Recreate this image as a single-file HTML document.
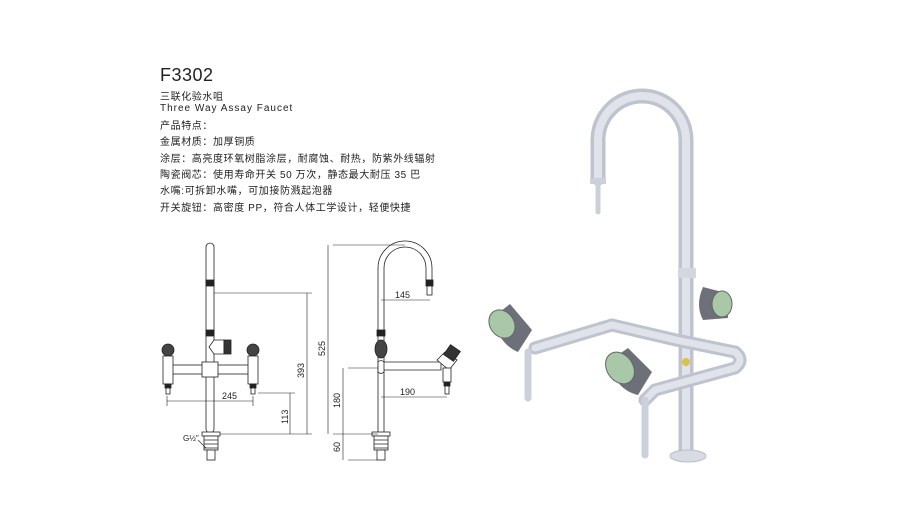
<!DOCTYPE html>
<html><head><meta charset="utf-8"><style>
html,body{margin:0;padding:0;background:#fff;}
#c{position:relative;width:900px;height:510px;overflow:hidden;font-family:"Liberation Sans","Noto Sans CJK SC",sans-serif;color:#222;}
.t{position:absolute;left:160px;font-size:10px;white-space:nowrap;letter-spacing:0.6px;}
</style></head><body><div id="c">
<div class="t" style="top:65px;font-size:18px;letter-spacing:0.5px">F3302</div>
<div class="t" style="top:88px">三联化验水咀</div>
<div class="t" style="top:103px;letter-spacing:1px">Three Way Assay Faucet</div>
<div class="t" style="top:117px">产品特点：</div>
<div class="t" style="top:133px">金属材质：加厚铜质</div>
<div class="t" style="top:150px">涂层：高亮度环氧树脂涂层，耐腐蚀、耐热，防紫外线辐射</div>
<div class="t" style="top:166px">陶瓷阀芯：使用寿命开关 50 万次，静态最大耐压 35 巴</div>
<div class="t" style="top:182px">水嘴:可拆卸水嘴，可加接防溅起泡器</div>
<div class="t" style="top:199px">开关旋钮：高密度 PP，符合人体工学设计，轻便快捷</div>
<svg width="900" height="510" style="position:absolute;left:0;top:0" font-family="Liberation Sans, sans-serif" font-size="9">
<g stroke="#222" stroke-width="0.8" fill="#fff">
<rect x="206" y="243" width="8" height="190" rx="4"/>
<rect x="206" y="280" width="8" height="6" fill="#222"/>
<rect x="206" y="330" width="8" height="6" fill="#222"/>
<path d="M214 340 h10 v14 h-10 l-5 -7z"/>
<rect x="224" y="340" width="7" height="14" fill="#333"/>
<rect x="168" y="365" width="84" height="9"/>
<rect x="202" y="362" width="16" height="15"/>
<circle cx="168" cy="350" r="6" fill="#444"/>
<rect x="163" y="356" width="10" height="28"/>
<rect x="165" y="384" width="6" height="4" fill="#222"/>
<rect x="166" y="388" width="4" height="6"/>
<circle cx="253" cy="350" r="6" fill="#444"/>
<rect x="248" y="356" width="10" height="28"/>
<rect x="250" y="384" width="6" height="4" fill="#222"/>
<rect x="251" y="388" width="4" height="6"/>
<rect x="202" y="432" width="18" height="4"/>
<rect x="204" y="436" width="14" height="14"/>
<path d="M204 440h14M204 444h14M204 448h14"/>
<rect x="207" y="450" width="8" height="10"/>
<path d="M378 434 V268 A27 27 0 0 1 432 268 V280 h-6 V268 A21 21 0 0 0 384 268 V434z"/>
<rect x="426" y="280" width="7" height="6" fill="#222"/>
<rect x="427" y="286" width="5" height="9"/>
<rect x="377" y="330" width="8" height="6" fill="#222"/>
<ellipse cx="381" cy="349" rx="6" ry="9" fill="#444"/>
<path d="M381 362 h60 v8 h-60 z"/>
<path d="M378 362 a4 4 0 0 1 6 0 v10 a4 4 0 0 1 -6 0z"/>
<path d="M437 360 l8 -8 l12 8 l-8 10z"/>
<rect x="446" y="347" width="12" height="12" fill="#333" transform="rotate(35 452 353)"/>
<rect x="443" y="368" width="8" height="14"/>
<rect x="444" y="382" width="6" height="4" fill="#222"/>
<rect x="445" y="386" width="4" height="8"/>
<rect x="372" y="432" width="18" height="4"/>
<rect x="374" y="436" width="14" height="14"/>
<path d="M374 440h14M374 444h14M374 448h14"/>
<rect x="377" y="450" width="8" height="10"/>
</g>
<g stroke="#222" stroke-width="0.6" fill="none">
<path d="M214 293H312M307 293V434M220 434H312M258 393H295M290 393V434"/>
<path d="M167 401H253M167 396V406M253 396V406"/>
<path d="M333 245H405M328 245V434M333 434H378M348 368H378M343 368V460M343 434V460M348 460H378"/>
<path d="M381 300H430M381 397H447"/>
<path d="M198 440l8 8"/>
</g>
<g fill="#222">
<text x="222" y="399">245</text>
<text x="395" y="298">145</text>
<text x="400" y="395">190</text>
<text transform="translate(304 378) rotate(-90)">393</text>
<text transform="translate(288 424) rotate(-90)">113</text>
<text transform="translate(325 356) rotate(-90)">525</text>
<text transform="translate(340 408) rotate(-90)">180</text>
<text transform="translate(340 452) rotate(-90)">60</text>
<text x="183" y="441" font-size="8">G½"</text>
</g>
<!-- 3D photo -->
<g fill="none" stroke-linecap="round">
<path d="M686 450 V140 A44 44 0 0 0 598 140 V178" stroke="#bfc3cf" stroke-width="15"/>
<path d="M686 450 V140 A44 44 0 0 0 598 140 V178" stroke="#e0e3ea" stroke-width="8"/>
<path d="M535 348 L612 325 L676 340 L735 352 Q745 360 735 368 L655 390 L645 400" stroke="#bfc3cf" stroke-width="13"/>
<path d="M535 348 L612 325 L676 340 L735 352 Q745 360 735 368 L655 390 L645 400" stroke="#e0e3ea" stroke-width="7"/>
<path d="M528 352 V398" stroke="#ccd0da" stroke-width="7"/>
<path d="M645 400 V455" stroke="#ccd0da" stroke-width="7"/>
<path d="M598 180 V212" stroke="#ccd0da" stroke-width="5"/>
</g>
<ellipse cx="688" cy="456" rx="18" ry="6" fill="#d8dbe3" stroke="#b8bcc6"/>
<rect x="678" y="268" width="18" height="10" fill="#d4d7e0"/>
<rect x="590" y="178" width="16" height="6" fill="#ccd0da"/>
<circle cx="686" cy="362" r="4" fill="#d8c24a"/>
<g>
<path d="M703 287 L726 293 L728 318 L703 320 Q695 305 703 287z" fill="#6d7079"/>
<ellipse cx="722" cy="304" rx="10" ry="13" fill="#a8c8a8" stroke="#666"/>
<path d="M492 318 L510 304 L532 330 L518 352 Q500 345 492 318z" fill="#6d7079"/>
<ellipse cx="502" cy="324" rx="12" ry="15" fill="#a8c8a8" stroke="#666" transform="rotate(-35 502 324)"/>
<path d="M608 362 L628 348 L652 372 L638 395 Q616 390 608 362z" fill="#6d7079"/>
<ellipse cx="620" cy="368" rx="13" ry="17" fill="#a8c8a8" stroke="#666" transform="rotate(-35 620 368)"/>
</g>
</svg>
</div></body></html>
